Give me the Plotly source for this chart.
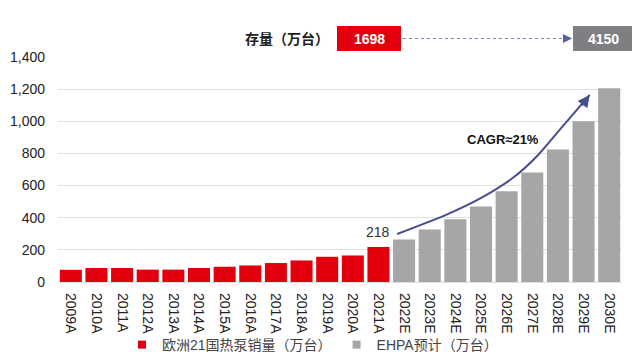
import plotly.graph_objects as go

# ---- data ----
cats_actual = ["2009A", "2010A", "2011A", "2012A", "2013A", "2014A", "2015A",
               "2016A", "2017A", "2018A", "2019A", "2020A", "2021A"]
sales_actual = [76, 87, 87, 77, 77, 87, 95, 103, 118, 134, 157, 165, 218]
cats_forecast = ["2022E", "2023E", "2024E", "2025E", "2026E", "2027E",
                 "2028E", "2029E", "2030E"]
sales_forecast = [264, 326, 390, 470, 565, 681, 825, 1000, 1205]
series_names = ["欧洲21国热泵销量（万台）", "EHPA预计（万台）"]
stock_label = "存量（万台）"
stock_2021 = "1698"
stock_2030 = "4150"
cagr_label = "CAGR≈21%"
# hand-drawn trend curve guide points (category position, value)
curve_pos = [12.73, 14.68, 15.97, 17.26, 18.2, 19.1]
curve_val = [299, 421, 520, 650, 786, 953]
arrow_tip = (20.24, 1164)

cats = cats_actual + cats_forecast
x_act = list(range(len(cats_actual)))
x_fc = list(range(len(cats_actual), len(cats)))

RED = "#e2000f"
GRAY = "#a6a6a8"
DARKGRAY = "#7f7f83"
CURVE = "#474d8e"
FONT = "Liberation Sans, Arial, Noto Sans CJK SC, sans-serif"

fig = go.Figure()
fig.add_trace(go.Bar(x=x_act, y=sales_actual, name=series_names[0],
                     marker=dict(color=RED, line=dict(width=0)), width=0.86,
                     showlegend=False, legendgroup="a"))
fig.add_trace(go.Bar(x=x_fc, y=sales_forecast, name=series_names[1],
                     marker=dict(color=GRAY, line=dict(width=0)), width=0.86,
                     showlegend=False, legendgroup="b"))
# legend entries (small square keys like the original)
fig.add_trace(go.Scatter(x=[None], y=[None], mode="markers", name=series_names[0],
                         marker=dict(symbol="square", size=8, color=RED), legendgroup="a"))
fig.add_trace(go.Scatter(x=[None], y=[None], mode="markers", name=series_names[1],
                         marker=dict(symbol="square", size=8, color=GRAY), legendgroup="b"))
fig.add_trace(go.Scatter(x=curve_pos + [arrow_tip[0]], y=curve_val + [arrow_tip[1]],
                         mode="lines",
                         line=dict(color=CURVE, width=2, shape="spline", smoothing=0.8),
                         showlegend=False, hoverinfo="skip"))

# arrow head at end of curve
fig.add_annotation(x=arrow_tip[0], y=arrow_tip[1], ax=-9, ay=12,
                   xref="x", yref="y", text="",
                   showarrow=True, arrowhead=2, arrowsize=1.2, arrowwidth=2,
                   arrowcolor=CURVE)

# 218 label
fig.add_annotation(x=x_act[-1], y=sales_actual[-1], text=str(sales_actual[-1]),
                   showarrow=False, yanchor="bottom", yshift=5,
                   font=dict(size=14, color="#333333", family=FONT))

# CAGR label
fig.add_annotation(x=16.86, y=887, text="<b>" + cagr_label + "</b>", showarrow=False,
                   xanchor="center", yanchor="middle",
                   font=dict(size=13, color="#111111", family=FONT))

# top stock boxes (positions in page pixels -> paper coords)
def px_x(p):
    return (p - 58) / 564

def px_y(p):
    return (282 - p) / 225

fig.add_shape(type="rect", xref="paper", yref="paper",
              x0=px_x(337), x1=px_x(401), y0=px_y(51), y1=px_y(26),
              fillcolor=RED, line=dict(width=0))
fig.add_shape(type="rect", xref="paper", yref="paper",
              x0=px_x(573), x1=px_x(634), y0=px_y(51), y1=px_y(26),
              fillcolor=DARKGRAY, line=dict(width=0))
fig.add_annotation(xref="paper", yref="paper", x=px_x(369), y=px_y(38.5),
                   xanchor="center", yanchor="middle",
                   text="<b>" + stock_2021 + "</b>", showarrow=False,
                   font=dict(size=14, color="white", family=FONT))
fig.add_annotation(xref="paper", yref="paper", x=px_x(603.5), y=px_y(38.5),
                   xanchor="center", yanchor="middle",
                   text="<b>" + stock_2030 + "</b>", showarrow=False,
                   font=dict(size=14, color="white", family=FONT))
fig.add_annotation(xref="paper", yref="paper", x=px_x(331), y=px_y(38.5),
                   xanchor="right", yanchor="middle",
                   text="<b>" + stock_label + "</b>", showarrow=False,
                   font=dict(size=14, color="#222222", family=FONT))
fig.add_shape(type="line", xref="paper", yref="paper",
              x0=px_x(403), x1=px_x(565), y0=px_y(38.5), y1=px_y(38.5),
              line=dict(color="#7a7fb0", width=1.2, dash="dot"))
fig.add_annotation(xref="paper", yref="paper",
                   x=px_x(572), y=px_y(38.5), ax=-10, ay=0, text="",
                   showarrow=True, arrowhead=2, arrowsize=1.2, arrowwidth=1.5,
                   arrowcolor="#5a5fa0")

# page body has an 8px margin, so figure margins are offset by 8px
fig.update_layout(
    width=640, height=358,
    margin=dict(l=50, r=26, t=49, b=84, autoexpand=False),
    paper_bgcolor="white", plot_bgcolor="white",
    font=dict(family=FONT, size=13, color="#333333"),
    barmode="overlay",
    showlegend=True,
    legend=dict(orientation="h", x=px_x(122), xanchor="left", y=px_y(345), yanchor="middle",
                font=dict(size=14, color="#444444", family=FONT),
                bgcolor="rgba(0,0,0,0)"),
)
fig.update_xaxes(range=[-0.5, len(cats) - 0.5], tickmode="array",
                 tickvals=list(range(len(cats))), ticktext=cats, tickangle=90,
                 showgrid=False, zeroline=False, showline=False, automargin=False,
                 tickfont=dict(size=14, color="#222222"), ticks="", ticklabelstandoff=10)
fig.update_yaxes(range=[0, 1400], dtick=200, tickformat=",d",
                 showgrid=True, gridcolor="#dfdfe6", gridwidth=1,
                 zeroline=True, zerolinecolor="#dfdfe6", zerolinewidth=1,
                 showline=False, ticks="", ticklabelstandoff=12, automargin=False,
                 tickfont=dict(size=14, color="#222222"))

fig.write_html("out.html")
